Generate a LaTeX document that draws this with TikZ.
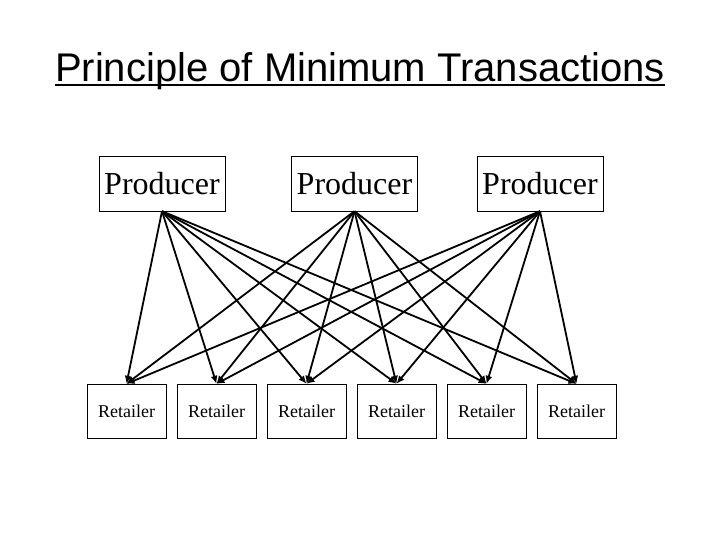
\documentclass[tikz,border=0pt]{standalone}
\usepackage{fontspec}
\setmainfont{Liberation Serif}
\newfontfamily\titlefont{Liberation Sans}
\usetikzlibrary{arrows.meta}

\newcommand{\titleline}[1]{\setbox0\hbox{#1}\rlap{\rule[-4.5pt]{\wd0}{2.5pt}}\box0}

\tikzset{
  every node/.style={inner sep=0pt},
  prodbox/.style={draw, thin, minimum width=126pt, minimum height=55pt, font=\fontsize{32}{36}\selectfont},
  retbox/.style={draw, thin, minimum width=79pt, minimum height=54pt, font=\fontsize{18}{21}\selectfont},
  supply/.style={-{Latex[length=8pt,width=7pt]}, line width=1.8pt, black},
}

\begin{document}
\begin{tikzpicture}[x=1pt,y=-1pt]
  \useasboundingbox (0,0) rectangle (720,540);
  \node[anchor=base, font=\titlefont\fontsize{40}{46}\selectfont] (title) at (360,82) {\titleline{Principle of Minimum Transactions}};

  % producers
  \node[prodbox] (p1) at (162,183.5) {Producer};
  \node[prodbox] (p2) at (354.5,183.5) {Producer};
  \node[prodbox] (p3) at (540,183.5) {Producer};

  % retailers
  \foreach \i in {1,...,6}
    \node[retbox] (r\i) at ({36.5+90*\i},411) {Retailer};

  \foreach \p in {1,2,3}
    \foreach \r in {1,...,6}
      \draw[supply] (p\p.south) -- (r\r.north);
\end{tikzpicture}
\end{document}
